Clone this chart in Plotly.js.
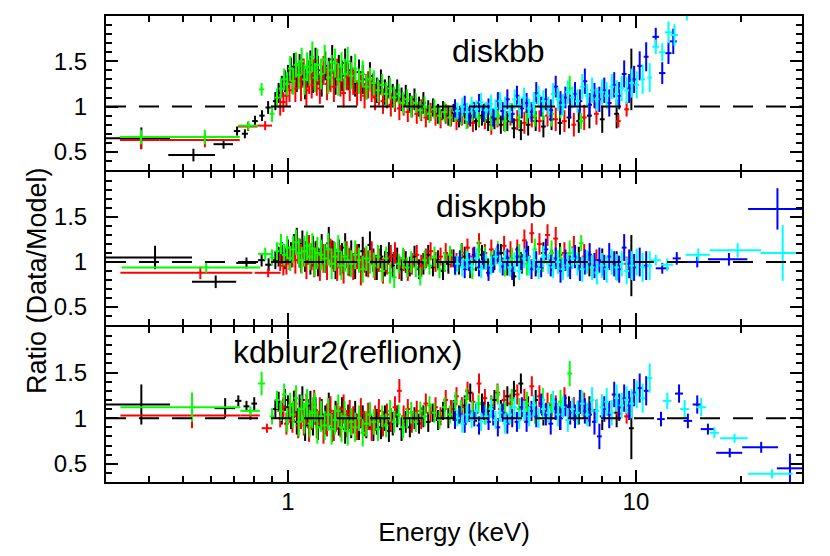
<!DOCTYPE html>
<html>
<head>
<meta charset="utf-8">
<script src="https://cdn.plot.ly/plotly-3.0.1.min.js"></script>
<style>html,body{margin:0;padding:0;background:#fff;}#chart{width:830px;height:556px;}</style>
</head>
<body>
<div id="chart"></div>
<script>
// ---------------- DATA ----------------
const MODELS = ["diskbb", "diskpbb", "kdblur2(reflionx)"];
const X_TICKS = [1, 10];
const X_TICK_LABELS = ["1", "10"];
const Y_TICKS = [0.5, 1, 1.5];
const Y_TICK_LABELS = ["0.5", "1", "1.5"];

// Narrow-bin spectra: energies (keV), ratio errors, ratios for each model
const E_BLACK = [0.92,0.94,0.96,0.98,1.00,1.02,1.04,1.06,1.08,1.10,1.12,1.14,1.16,1.18,1.20,1.22,1.25,1.28,1.31,1.34,1.37,1.40,1.43,1.46,1.49,1.52,1.56,1.60,1.64,1.68,1.72,1.76,1.80,1.85,1.90,1.95,2.00,2.06,2.12,2.18,2.24,2.31,2.38,2.45,2.53,2.61,2.70,2.79,2.89,2.99,3.10,3.22,3.34,3.47,3.61,3.76,3.92,4.09,4.27,4.46,4.67,4.90,5.15,5.42,5.72,6.05,6.42,6.85,7.35,8.00,8.80,9.70];
const DR_BLACK = [0.10,0.11,0.12,0.12,0.13,0.14,0.15,0.14,0.16,0.15,0.17,0.15,0.16,0.17,0.15,0.16,0.17,0.16,0.18,0.16,0.17,0.15,0.17,0.16,0.15,0.16,0.15,0.14,0.16,0.14,0.15,0.13,0.14,0.13,0.14,0.12,0.13,0.12,0.13,0.12,0.11,0.12,0.11,0.12,0.11,0.10,0.11,0.10,0.11,0.10,0.10,0.11,0.10,0.10,0.11,0.10,0.11,0.10,0.11,0.11,0.11,0.12,0.11,0.12,0.12,0.13,0.12,0.13,0.14,0.15,0.16,0.34];
const R_BLACK_DISKBB = [1.06,1.15,1.22,1.28,1.33,1.40,1.44,1.30,1.42,1.38,1.25,1.36,1.46,1.32,1.50,1.40,1.28,1.45,1.36,1.52,1.30,1.42,1.34,1.48,1.33,1.40,1.26,1.38,1.30,1.22,1.34,1.24,1.18,1.28,1.16,1.22,1.12,1.18,1.08,1.12,1.04,1.08,1.00,1.04,0.96,0.99,0.92,0.96,0.90,0.93,0.87,0.92,0.88,0.84,0.90,0.83,0.86,0.80,0.84,0.76,0.74,0.80,0.84,0.78,0.86,0.82,0.88,0.84,0.90,0.86,0.92,1.30];
const R_BLACK_DISKPBB = [1.02,1.06,1.10,1.04,1.12,1.08,1.16,1.24,1.10,1.20,1.06,1.14,1.02,1.12,1.08,1.00,1.14,1.04,1.21,1.08,0.98,1.10,1.04,1.16,1.00,1.08,0.96,1.06,1.12,0.98,1.19,1.02,0.94,1.06,0.98,1.10,0.96,1.04,0.92,1.00,0.95,1.06,0.92,0.98,1.08,0.94,1.02,0.90,0.98,1.04,0.96,1.06,0.92,1.00,1.08,0.94,1.02,1.10,0.96,0.84,1.00,1.06,0.95,1.10,1.02,1.08,0.96,1.04,0.98,1.00,0.96,0.96];
const R_BLACK_KDBLUR = [1.10,1.18,1.05,1.20,1.12,1.02,1.15,0.96,1.10,1.20,0.92,1.06,1.14,0.98,1.08,0.92,1.04,0.98,1.10,0.90,1.02,0.96,1.06,0.88,1.00,0.94,1.04,0.90,0.98,0.92,1.02,0.88,0.96,0.90,1.00,0.86,0.94,1.02,0.88,0.96,0.90,1.00,0.94,1.02,0.96,1.06,0.98,1.08,1.00,1.10,1.04,1.14,1.28,1.06,1.16,1.08,1.20,1.10,1.24,1.30,1.38,1.12,1.20,1.04,1.14,1.00,1.12,1.06,1.10,1.02,1.06,0.89];

const E_RED = [0.95,0.97,0.99,1.01,1.03,1.05,1.07,1.09,1.11,1.13,1.15,1.17,1.19,1.21,1.235,1.265,1.295,1.325,1.355,1.385,1.415,1.445,1.475,1.505,1.54,1.58,1.62,1.66,1.70,1.74,1.78,1.825,1.875,1.925,1.975,2.03,2.09,2.15,2.21,2.27,2.345,2.415,2.49,2.57,2.655,2.745,2.84,2.94,3.05,3.16,3.28,3.40,3.54,3.68,3.84,4.00,4.18,4.36,4.56,4.78,5.02,5.28,5.57,5.88,6.23,6.63,7.10,7.70,8.90,9.40];
const DR_RED = [0.10,0.11,0.12,0.13,0.14,0.15,0.14,0.16,0.15,0.17,0.16,0.15,0.17,0.16,0.17,0.16,0.18,0.16,0.17,0.15,0.17,0.16,0.15,0.16,0.15,0.14,0.16,0.14,0.15,0.13,0.14,0.13,0.14,0.12,0.13,0.12,0.13,0.12,0.11,0.12,0.11,0.12,0.11,0.10,0.11,0.10,0.11,0.10,0.10,0.11,0.10,0.10,0.11,0.10,0.11,0.10,0.11,0.11,0.11,0.12,0.11,0.12,0.12,0.13,0.12,0.13,0.14,0.12,0.07,0.08];
const R_RED_DISKBB = [1.00,1.05,1.12,1.18,1.28,1.20,1.34,1.22,1.38,1.18,1.30,1.24,1.36,1.28,1.20,1.40,1.25,1.32,1.22,1.38,1.28,1.15,1.33,1.22,1.28,1.15,1.22,1.12,1.24,1.18,1.10,1.14,1.06,1.10,1.02,1.06,0.98,1.02,0.94,1.00,0.92,0.96,0.88,0.94,0.90,0.86,0.92,0.88,0.84,0.90,0.86,0.82,0.88,0.85,0.80,0.87,0.84,0.90,0.85,0.82,0.88,0.84,0.90,0.86,0.84,0.80,0.88,0.92,0.84,0.97];
const R_RED_DISKPBB = [1.00,0.96,0.98,1.04,1.08,1.02,1.12,1.04,1.10,0.98,1.14,1.06,1.00,1.08,0.96,1.04,0.98,1.10,1.06,0.94,1.02,0.92,1.08,1.00,0.95,1.06,0.90,1.02,0.98,1.10,0.94,1.02,0.90,0.98,1.06,1.10,0.94,1.02,0.90,0.98,1.08,0.96,1.04,1.12,1.00,1.06,1.10,1.04,1.00,1.10,1.16,1.06,1.21,1.10,1.14,1.08,1.18,1.12,1.14,1.24,1.32,1.20,1.30,1.26,1.10,1.16,1.06,1.02,1.00,0.98];
const R_RED_KDBLUR = [1.00,1.12,0.94,1.08,0.98,1.16,0.92,1.04,0.96,1.10,0.90,1.02,1.14,0.94,1.06,0.88,0.98,1.08,0.92,1.02,0.96,1.10,0.94,1.04,0.98,0.90,1.06,0.94,1.02,0.88,1.00,1.08,0.94,1.04,0.98,1.12,1.30,1.02,1.10,0.96,1.08,1.00,1.16,1.06,1.12,1.02,1.20,1.10,1.24,1.12,1.30,1.18,1.38,1.22,1.14,1.28,1.20,1.16,1.26,1.20,1.35,1.24,1.16,1.12,1.22,1.10,1.14,1.08,1.05,1.02];

const E_GREEN = [0.90,0.93,0.955,0.975,0.995,1.015,1.035,1.055,1.075,1.095,1.115,1.135,1.155,1.175,1.195,1.215,1.245,1.275,1.305,1.335,1.365,1.395,1.425,1.455,1.485,1.52,1.56,1.60,1.64,1.68,1.72,1.765,1.815,1.865,1.915,1.965,2.02,2.08,2.14,2.20,2.26,2.33,2.40,2.47,2.55,2.635,2.725,2.82,2.92,3.03,3.14,3.26,3.39,3.53,3.68,3.84,4.01,4.20,4.40,4.62,4.86,5.12,5.40,5.72,6.07,6.45,6.96];
const DR_GREEN = [0.09,0.10,0.11,0.12,0.13,0.14,0.15,0.14,0.16,0.15,0.17,0.16,0.15,0.17,0.16,0.18,0.17,0.16,0.18,0.17,0.16,0.18,0.16,0.17,0.16,0.15,0.16,0.14,0.15,0.14,0.13,0.14,0.13,0.12,0.13,0.12,0.12,0.11,0.12,0.11,0.12,0.11,0.10,0.11,0.10,0.11,0.10,0.11,0.10,0.11,0.10,0.11,0.11,0.10,0.11,0.12,0.11,0.12,0.12,0.12,0.13,0.12,0.13,0.14,0.13,0.14,0.09];
const R_GREEN_DISKBB = [0.92,1.10,1.20,1.30,1.25,1.42,1.28,1.46,1.35,1.50,1.30,1.44,1.38,1.55,1.32,1.46,1.36,1.52,1.32,1.40,1.48,1.30,1.44,1.36,1.50,1.34,1.42,1.28,1.36,1.22,1.30,1.26,1.18,1.24,1.14,1.20,1.10,1.14,1.04,1.08,1.00,1.04,0.96,1.00,0.92,0.97,0.90,0.94,0.88,0.94,0.90,0.86,0.95,0.88,0.93,0.86,0.90,0.84,0.92,0.88,0.94,0.90,0.98,0.92,1.00,1.20,0.84];
const R_GREEN_DISKPBB = [1.05,1.12,1.20,1.08,1.16,1.04,1.14,1.22,1.10,1.02,1.12,1.18,1.06,1.15,1.00,1.10,1.08,1.04,1.14,0.98,1.06,1.12,0.96,1.06,1.02,0.98,1.08,1.02,0.92,1.04,1.00,0.96,1.06,0.90,1.04,0.88,0.83,0.98,1.04,0.94,1.00,0.94,0.84,1.02,0.96,1.06,0.92,1.00,1.08,0.96,1.10,1.02,0.92,1.14,1.06,1.00,1.12,0.96,1.04,1.08,0.98,1.14,1.02,1.10,1.04,1.10,1.21];
const R_GREEN_KDBLUR = [1.02,1.20,1.08,1.26,0.98,1.14,1.04,1.22,0.96,1.10,1.00,1.16,0.94,1.06,1.12,0.90,1.02,0.92,1.04,0.88,0.98,1.08,0.90,1.02,0.86,0.96,0.90,1.00,0.84,0.94,1.04,0.96,0.88,1.02,0.92,1.08,0.96,1.04,0.90,1.00,1.06,0.96,1.08,1.02,1.14,1.06,0.98,1.12,1.04,1.18,1.10,1.22,1.08,1.16,1.04,1.12,1.26,1.06,1.20,1.10,1.16,1.06,1.20,1.12,1.18,1.49,1.22];

const E_BLUE = [3.02,3.12,3.22,3.32,3.43,3.54,3.65,3.77,3.89,4.01,4.14,4.27,4.41,4.55,4.70,4.85,5.01,5.17,5.34,5.51,5.69,5.88,6.07,6.27,6.47,6.68,6.90,7.13,7.36,7.60,7.85,8.11,8.38,8.66,8.95,9.25,9.56,9.88,10.25,10.70];
const DR_BLUE = [0.10,0.09,0.10,0.10,0.09,0.10,0.10,0.09,0.10,0.10,0.10,0.11,0.10,0.11,0.11,0.11,0.11,0.12,0.11,0.12,0.12,0.12,0.13,0.12,0.13,0.13,0.13,0.14,0.13,0.14,0.14,0.14,0.15,0.14,0.15,0.15,0.16,0.15,0.16,0.16];
const R_BLUE_DISKBB = [0.98,0.92,1.02,0.90,0.96,1.04,0.93,1.00,0.88,1.06,0.95,1.08,0.92,1.12,0.98,1.04,0.94,1.15,1.00,1.08,0.96,1.22,1.04,1.10,1.00,1.14,1.06,1.28,1.02,1.12,1.08,1.18,1.04,1.24,1.12,1.36,1.20,1.30,1.45,1.55];
const R_BLUE_DISKPBB = [0.96,1.04,0.92,1.00,1.08,0.94,1.02,0.88,0.98,1.10,0.95,1.04,0.90,1.06,0.98,1.12,0.92,1.00,0.94,1.14,0.96,1.04,0.90,1.02,0.94,1.06,0.92,1.00,1.08,0.96,1.02,0.94,1.06,0.98,0.92,1.16,0.98,0.94,1.00,0.96];
const R_BLUE_KDBLUR = [0.98,1.04,0.94,1.06,1.00,0.92,1.08,0.96,1.02,0.90,1.06,0.94,1.00,0.96,1.12,0.96,1.08,1.02,1.16,1.04,0.94,1.10,1.00,1.14,1.06,1.02,1.18,1.08,1.04,0.96,0.80,1.10,1.04,1.26,1.12,1.22,1.14,1.28,1.33,1.30];

const E_CYAN = [3.07,3.17,3.27,3.37,3.48,3.59,3.71,3.83,3.95,4.07,4.20,4.34,4.48,4.62,4.77,4.93,5.09,5.25,5.42,5.60,5.78,5.97,6.17,6.37,6.57,6.79,7.01,7.24,7.48,7.72,7.98,8.24,8.52,8.80,9.10,9.40,9.72,10.05,10.45,10.95];
const DR_CYAN = [0.09,0.10,0.10,0.09,0.10,0.10,0.09,0.10,0.10,0.10,0.11,0.10,0.11,0.10,0.11,0.11,0.12,0.11,0.12,0.11,0.12,0.13,0.12,0.13,0.12,0.13,0.14,0.13,0.14,0.13,0.14,0.15,0.14,0.15,0.14,0.15,0.16,0.15,0.16,0.16];
const R_CYAN_DISKBB = [0.95,1.00,0.94,1.02,0.97,1.05,0.96,1.03,0.98,1.06,1.00,0.94,1.08,1.02,1.10,0.98,1.04,1.12,1.06,1.00,1.14,1.08,1.02,1.16,1.10,1.06,1.22,1.12,1.18,1.08,1.16,1.12,1.22,1.14,1.20,1.18,1.26,1.24,1.30,1.32];
const R_CYAN_DISKPBB = [0.98,0.94,1.02,0.96,1.04,0.92,1.00,0.96,1.06,0.98,1.02,0.94,1.00,0.90,1.04,0.96,1.02,0.92,1.06,0.98,0.94,1.00,0.92,0.96,1.04,0.98,0.92,1.00,0.94,0.88,0.96,0.92,1.00,0.94,0.98,0.90,0.96,1.00,0.94,0.96];
const R_CYAN_KDBLUR = [1.00,0.94,1.04,0.98,1.08,0.96,1.02,1.10,0.98,1.06,0.94,1.04,1.12,0.98,1.08,1.02,1.14,1.00,1.10,1.06,1.18,1.04,1.12,0.98,1.10,1.06,1.16,1.04,1.20,1.08,1.12,1.18,1.06,1.22,1.14,1.20,1.16,1.26,1.22,1.44];

// Wide (grouped) bins: energy, half-width, ratio, ratio error
// --- diskbb
const W_BLACK_DISKBB_E = [0.379,0.535,0.653,0.714,0.752,0.804,0.842,0.877];
const W_BLACK_DISKBB_DE = [0.079,0.082,0.042,0.015,0.015,0.015,0.015,0.015];
const W_BLACK_DISKBB_R = [0.65,0.465,0.585,0.73,0.70,0.84,0.90,0.99];
const W_BLACK_DISKBB_DR = [0.12,0.07,0.05,0.05,0.05,0.06,0.06,0.07];
const W_RED_DISKBB_E = [0.378,0.577,0.768,0.86];
const W_RED_DISKBB_DE = [0.049,0.15,0.05,0.04];
const W_RED_DISKBB_R = [0.63,0.63,0.78,0.79];
const W_RED_DISKBB_DR = [0.10,0.08,0.05,0.05];
const W_GREEN_DISKBB_E = [0.378,0.577,0.77,0.84];
const W_GREEN_DISKBB_DE = [0.049,0.15,0.05,0.015];
const W_GREEN_DISKBB_R = [0.665,0.665,0.79,1.19];
const W_GREEN_DISKBB_DR = [0.08,0.08,0.05,0.07];
const W_BLUE_DISKBB_E = [11.4,11.9,12.4,12.8,14.1,15.5,17.0,19.0,22.5,26.5];
const W_BLUE_DISKBB_DE = [0.25,0.25,0.25,0.3,0.5,0.6,0.8,1.2,2.0,2.5];
const W_BLUE_DISKBB_R = [1.77,1.37,1.59,1.72,2.15,2.4,2.7,3.0,3.4,4.0];
const W_BLUE_DISKBB_DR = [0.10,0.12,0.12,0.14,0.15,0.2,0.25,0.3,0.4,0.5];
const W_CYAN_DISKBB_E = [11.4,11.9,12.4,12.9,14.0,15.5,17.5,20.0,25.0];
const W_CYAN_DISKBB_DE = [0.25,0.25,0.3,0.3,0.5,0.7,1.0,1.5,3.0];
const W_CYAN_DISKBB_R = [1.66,1.60,1.82,1.79,2.1,2.3,2.6,2.9,3.5];
const W_CYAN_DISKBB_DR = [0.08,0.10,0.12,0.12,0.15,0.2,0.25,0.3,0.4];
// --- diskpbb
const W_BLACK_DISKPBB_E = [0.415,0.62,0.76,0.84,0.88];
const W_BLACK_DISKPBB_DE = [0.115,0.09,0.05,0.02,0.02];
const W_BLACK_DISKPBB_R = [1.05,0.78,0.99,1.02,0.97];
const W_BLACK_DISKPBB_DR = [0.13,0.07,0.06,0.07,0.07];
const W_RED_DISKPBB_E = [0.56,0.877];
const W_RED_DISKPBB_DE = [0.23,0.075];
const W_RED_DISKPBB_R = [0.88,0.88];
const W_RED_DISKPBB_DR = [0.07,0.05];
const W_GREEN_DISKPBB_E = [0.582,0.86];
const W_GREEN_DISKPBB_DE = [0.249,0.04];
const W_GREEN_DISKPBB_R = [0.94,1.09];
const W_GREEN_DISKPBB_DR = [0.06,0.07];
const W_BLUE_DISKPBB_E = [11.9,13.1,15.0,18.5,25.5];
const W_BLUE_DISKPBB_DE = [0.5,0.35,1.0,2.4,4.5];
const W_BLUE_DISKPBB_R = [0.93,1.04,1.00,1.03,1.59];
const W_BLUE_DISKPBB_DR = [0.06,0.07,0.06,0.07,0.23];
const W_CYAN_DISKPBB_E = [11.4,12.3,15.1,19.6,26.4];
const W_CYAN_DISKPBB_DE = [0.4,0.5,1.2,3.3,3.6];
const W_CYAN_DISKPBB_R = [1.02,0.97,1.08,1.13,1.10];
const W_CYAN_DISKPBB_DR = [0.06,0.07,0.07,0.08,0.31];
// --- kdblur2(reflionx)
const W_BLACK_KDBLUR_E = [0.379,0.66,0.72,0.76,0.80];
const W_BLACK_KDBLUR_DE = [0.079,0.045,0.015,0.015,0.015];
const W_BLACK_KDBLUR_R = [1.15,1.11,1.19,1.13,1.16];
const W_BLACK_KDBLUR_DR = [0.22,0.11,0.06,0.06,0.07];
const W_RED_KDBLUR_E = [0.53,0.78,0.87];
const W_RED_KDBLUR_DE = [0.2,0.05,0.03];
const W_RED_KDBLUR_R = [1.03,1.03,0.89];
const W_RED_KDBLUR_DR = [0.14,0.05,0.05];
const W_GREEN_KDBLUR_E = [0.53,0.78,0.84];
const W_GREEN_KDBLUR_DE = [0.2,0.05,0.02];
const W_GREEN_KDBLUR_R = [1.12,1.08,1.38];
const W_GREEN_KDBLUR_DR = [0.16,0.05,0.13];
const W_BLUE_KDBLUR_E = [11.8,13.3,14.1,15.0,16.1,18.6,22.9,27.7];
const W_BLUE_KDBLUR_DE = [0.3,0.35,0.4,0.45,0.75,1.6,2.7,2.3];
const W_BLUE_KDBLUR_R = [0.99,1.27,0.97,1.15,0.88,0.62,0.68,0.45];
const W_BLUE_KDBLUR_DR = [0.08,0.10,0.08,0.10,0.06,0.05,0.06,0.16];
const W_CYAN_KDBLUR_E = [12.3,13.8,15.4,16.8,19.2,24.6];
const W_CYAN_KDBLUR_DE = [0.35,0.4,0.5,0.5,1.75,3.6];
const W_CYAN_KDBLUR_R = [1.19,1.10,1.12,0.84,0.78,0.39];
const W_CYAN_KDBLUR_DR = [0.09,0.10,0.10,0.06,0.05,0.05];

// ---------------- BUILD ----------------
const COLORS = {black:'#000000', red:'#ff0000', green:'#00ff00', blue:'#0000ff', cyan:'#00ffff'};
const FONT = 'Liberation Sans, Arial, Helvetica, sans-serif';

function errTrace(xa, ya, color, E, R, DR, DE) {
  const ex = DE ? {type:'data', array:DE, visible:true, color:color, thickness:2, width:0}
                : {type:'percent', value:1.6, visible:true, color:color, thickness:2, width:0};
  return {type:'scatter', mode:'markers', x:E, y:R, xaxis:xa, yaxis:ya,
    marker:{size:0, color:color, opacity:0}, hoverinfo:'skip', showlegend:false,
    error_y:{type:'data', array:DR, visible:true, color:color, thickness:2, width:0},
    error_x:ex};
}

const panelDefs = [
  {xa:'x', ya:'y', dense:{black:R_BLACK_DISKBB, red:R_RED_DISKBB, green:R_GREEN_DISKBB, blue:R_BLUE_DISKBB, cyan:R_CYAN_DISKBB},
   wide:{black:[W_BLACK_DISKBB_E,W_BLACK_DISKBB_DE,W_BLACK_DISKBB_R,W_BLACK_DISKBB_DR],
         red:[W_RED_DISKBB_E,W_RED_DISKBB_DE,W_RED_DISKBB_R,W_RED_DISKBB_DR],
         green:[W_GREEN_DISKBB_E,W_GREEN_DISKBB_DE,W_GREEN_DISKBB_R,W_GREEN_DISKBB_DR],
         blue:[W_BLUE_DISKBB_E,W_BLUE_DISKBB_DE,W_BLUE_DISKBB_R,W_BLUE_DISKBB_DR],
         cyan:[W_CYAN_DISKBB_E,W_CYAN_DISKBB_DE,W_CYAN_DISKBB_R,W_CYAN_DISKBB_DR]}},
  {xa:'x2', ya:'y2', dense:{black:R_BLACK_DISKPBB, red:R_RED_DISKPBB, green:R_GREEN_DISKPBB, blue:R_BLUE_DISKPBB, cyan:R_CYAN_DISKPBB},
   wide:{black:[W_BLACK_DISKPBB_E,W_BLACK_DISKPBB_DE,W_BLACK_DISKPBB_R,W_BLACK_DISKPBB_DR],
         red:[W_RED_DISKPBB_E,W_RED_DISKPBB_DE,W_RED_DISKPBB_R,W_RED_DISKPBB_DR],
         green:[W_GREEN_DISKPBB_E,W_GREEN_DISKPBB_DE,W_GREEN_DISKPBB_R,W_GREEN_DISKPBB_DR],
         blue:[W_BLUE_DISKPBB_E,W_BLUE_DISKPBB_DE,W_BLUE_DISKPBB_R,W_BLUE_DISKPBB_DR],
         cyan:[W_CYAN_DISKPBB_E,W_CYAN_DISKPBB_DE,W_CYAN_DISKPBB_R,W_CYAN_DISKPBB_DR]}},
  {xa:'x3', ya:'y3', dense:{black:R_BLACK_KDBLUR, red:R_RED_KDBLUR, green:R_GREEN_KDBLUR, blue:R_BLUE_KDBLUR, cyan:R_CYAN_KDBLUR},
   wide:{black:[W_BLACK_KDBLUR_E,W_BLACK_KDBLUR_DE,W_BLACK_KDBLUR_R,W_BLACK_KDBLUR_DR],
         red:[W_RED_KDBLUR_E,W_RED_KDBLUR_DE,W_RED_KDBLUR_R,W_RED_KDBLUR_DR],
         green:[W_GREEN_KDBLUR_E,W_GREEN_KDBLUR_DE,W_GREEN_KDBLUR_R,W_GREEN_KDBLUR_DR],
         blue:[W_BLUE_KDBLUR_E,W_BLUE_KDBLUR_DE,W_BLUE_KDBLUR_R,W_BLUE_KDBLUR_DR],
         cyan:[W_CYAN_KDBLUR_E,W_CYAN_KDBLUR_DE,W_CYAN_KDBLUR_R,W_CYAN_KDBLUR_DR]}}
];
const denseE = {black:[E_BLACK,DR_BLACK], red:[E_RED,DR_RED], green:[E_GREEN,DR_GREEN], blue:[E_BLUE,DR_BLUE], cyan:[E_CYAN,DR_CYAN]};
const order = ['black','red','green','blue','cyan'];

const traces = [];
panelDefs.forEach(p => {
  order.forEach(k => {
    const w = p.wide[k];
    traces.push(errTrace(p.xa, p.ya, COLORS[k], w[0], w[2], w[3], w[1]));
    traces.push(errTrace(p.xa, p.ya, COLORS[k], denseE[k][0], p.dense[k], denseE[k][1], null));
  });
});

const xMinor = [0.3,0.4,0.5,0.6,0.7,0.8,0.9,2,3,4,5,6,7,8,9,20,30];
const yMinor = [0.3,0.4,0.6,0.7,0.8,0.9,1.1,1.2,1.3,1.4,1.6,1.7,1.8,1.9,2.0];

function xAxis(anchor, labels) {
  const a = {type:'log', range:[Math.log10(0.3), Math.log10(30)], anchor:anchor,
    tickvals:X_TICKS, ticktext:X_TICK_LABELS, showticklabels:labels,
    ticks:'inside', ticklen:12, tickwidth:2, tickcolor:'#000',
    showline:true, linewidth:2, linecolor:'#000', mirror:'ticks',
    showgrid:false, zeroline:false, ticklabelstandoff:-3,
    minor:{tickvals:xMinor, ticks:'inside', ticklen:6, tickwidth:2, tickcolor:'#000', showgrid:false},
    tickfont:{family:FONT, size:24, color:'#000'}};
  if (anchor !== 'y3') a.matches = 'x3';
  return a;
}
function yAxis(anchor, domain) {
  return {range:[0.3, 2.0], anchor:anchor, domain:domain,
    tickvals:Y_TICKS, ticktext:Y_TICK_LABELS,
    ticks:'inside', ticklen:12, tickwidth:2, tickcolor:'#000',
    showline:true, linewidth:2, linecolor:'#000', mirror:'ticks',
    showgrid:false, zeroline:false, ticklabelstandoff:12,
    minor:{tickvals:yMinor, ticks:'inside', ticklen:6, tickwidth:2, tickcolor:'#000', showgrid:false},
    tickfont:{family:FONT, size:24, color:'#000'}};
}

const xa3 = xAxis('y3', true);
xa3.title = {text:'Energy (keV)', font:{family:FONT, size:26, color:'#000'}, standoff:9};

const shapes = [['x','y'],['x2','y2'],['x3','y3']].map(([xa,ya]) => ({
  type:'line', xref:xa+' domain', yref:ya, x0:0, x1:1, y0:1, y1:1,
  line:{color:'#000', width:2, dash:'20px,13px'}, layer:'above'}));

const pos = [[498, 51], [491, 206], [347, 352]];
const annotations = MODELS.map((m, i) => ({
  text:m, xref:'paper', yref:'paper', x:(pos[i][0]-106)/696, y:(482-pos[i][1])/466,
  xanchor:'center', yanchor:'middle', showarrow:false, font:{family:FONT, size:32, color:'#000'}}));
annotations.push({text:'Ratio (Data/Model)', xref:'paper', yref:'paper', x:(37-106)/696, y:(482-281)/466,
  xanchor:'center', yanchor:'middle', textangle:-90, showarrow:false, font:{family:FONT, size:27, color:'#000'}});

const layout = {
  width:830, height:556, margin:{l:106, r:28, t:16, b:74},
  paper_bgcolor:'#fff', plot_bgcolor:'#fff', showlegend:false,
  xaxis:xAxis('y', false), xaxis2:xAxis('y2', false), xaxis3:xa3,
  yaxis:yAxis('x', [(482-170)/466, 1]),
  yaxis2:yAxis('x2', [(482-325)/466, (482-172)/466]),
  yaxis3:yAxis('x3', [0, (482-327)/466]),
  shapes:shapes, annotations:annotations
};

Plotly.newPlot('chart', traces, layout, {staticPlot:true, displayModeBar:false});
</script>
</body>
</html>
